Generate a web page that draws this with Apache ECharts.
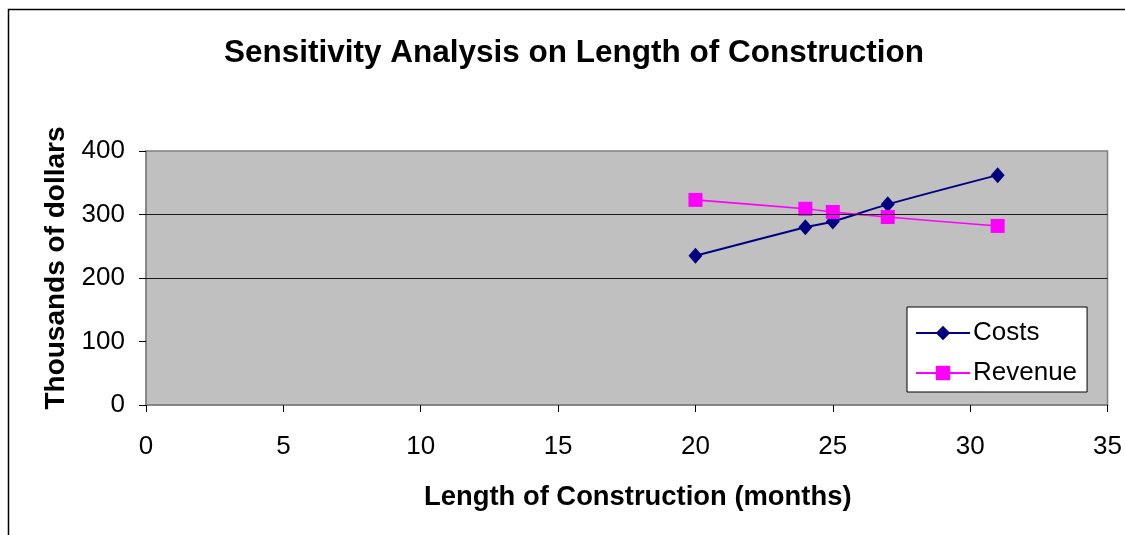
<!DOCTYPE html>
<html>
<head>
<meta charset="utf-8">
<script src="https://cdn.jsdelivr.net/npm/echarts@6/dist/echarts.min.js"></script>
<style>
html,body{margin:0;padding:0;background:#fff;}
#chart{width:1125px;height:535px;}
</style>
</head>
<body>
<div id="chart"></div>
<script>
var months = [20, 24, 25, 27, 31];
var costs = [235, 280, 289, 316, 362];
var revenue = [323, 309, 304, 296, 282];
var gridValues = [200, 300];

var chart = echarts.init(document.getElementById('chart'), null, {renderer: 'canvas'});
var font = 'Arial, "Liberation Sans", sans-serif';

function pairs(xs, ys) { return xs.map(function (x, i) { return [x, ys[i]]; }); }

chart.setOption({
  animation: false,
  backgroundColor: '#ffffff',
  textStyle: {fontFamily: font},
  graphic: [{
    type: 'rect', z: -10,
    shape: {x: 8.5, y: 9.5, width: 1200, height: 600},
    style: {fill: 'none', stroke: '#000', lineWidth: 1.5}
  }],
  title: {
    text: 'Sensitivity Analysis on Length of Construction',
    left: 569, top: 32, textAlign: 'center',
    textStyle: {fontFamily: font, fontSize: 31.5, fontWeight: 'bold', color: '#000'}
  },
  legend: {
    data: ['Costs', 'Revenue'],
    orient: 'vertical',
    left: 907, top: 307,
    padding: [13, 10, 6, 8],
    itemWidth: 54, itemHeight: 18, itemGap: 14,
    backgroundColor: '#fff', borderColor: '#000', borderWidth: 1, borderRadius: 0,
    textStyle: {fontFamily: font, fontSize: 26, color: '#000', lineHeight: 26, padding: [0, 0, 0, -2]}
  },
  grid: {
    left: 146, right: 17, top: 151, bottom: 130,
    show: true, backgroundColor: '#C0C0C0', borderColor: '#808080', borderWidth: 1.5
  },
  xAxis: {
    type: 'value', min: 0, max: 35, interval: 5,
    name: 'Length of Construction (months)',
    nameLocation: 'middle', nameGap: 79,
    nameTextStyle: {fontFamily: font, fontSize: 27.4, fontWeight: 'bold', color: '#000', padding: [0, 0, 0, 22]},
    axisLine: {show: true, onZero: false, lineStyle: {color: '#808080', width: 1.5}},
    axisTick: {show: true, length: 7, lineStyle: {color: '#000'}},
    axisLabel: {fontFamily: font, fontSize: 26, color: '#000', margin: 29},
    splitLine: {show: false}
  },
  yAxis: {
    type: 'value', min: 0, max: 400, interval: 100,
    name: 'Thousands of dollars',
    nameLocation: 'middle', nameGap: 76,
    nameTextStyle: {fontFamily: font, fontSize: 28, fontWeight: 'bold', color: '#000', padding: [0, 0, 0, 20]},
    axisLine: {show: true, lineStyle: {color: '#808080', width: 1.5}},
    axisTick: {show: true, length: 7, lineStyle: {color: '#000'}},
    axisLabel: {fontFamily: font, fontSize: 26, color: '#000', margin: 21},
    splitLine: {show: false}
  },
  series: [
    {
      name: 'gridlines', type: 'line', data: [], z: 1, silent: true,
      markLine: {
        silent: true, symbol: 'none', animation: false,
        label: {show: false},
        lineStyle: {color: '#1a1a1a', width: 1.2, type: 'solid'},
        data: gridValues.map(function (v) { return {yAxis: v}; })
      }
    },
    {
      name: 'Costs', type: 'line', z: 3,
      data: pairs(months, costs),
      smooth: 0.3,
      symbol: 'diamond', symbolSize: [14, 16],
      itemStyle: {color: '#000080'},
      lineStyle: {color: '#000080', width: 2}
    },
    {
      name: 'Revenue', type: 'line', z: 4,
      data: pairs(months, revenue),
      smooth: 0.3,
      symbol: 'rect', symbolSize: 14,
      itemStyle: {color: '#FF00FF'},
      lineStyle: {color: '#FF00FF', width: 1.6}
    }
  ]
});
</script>
</body>
</html>
